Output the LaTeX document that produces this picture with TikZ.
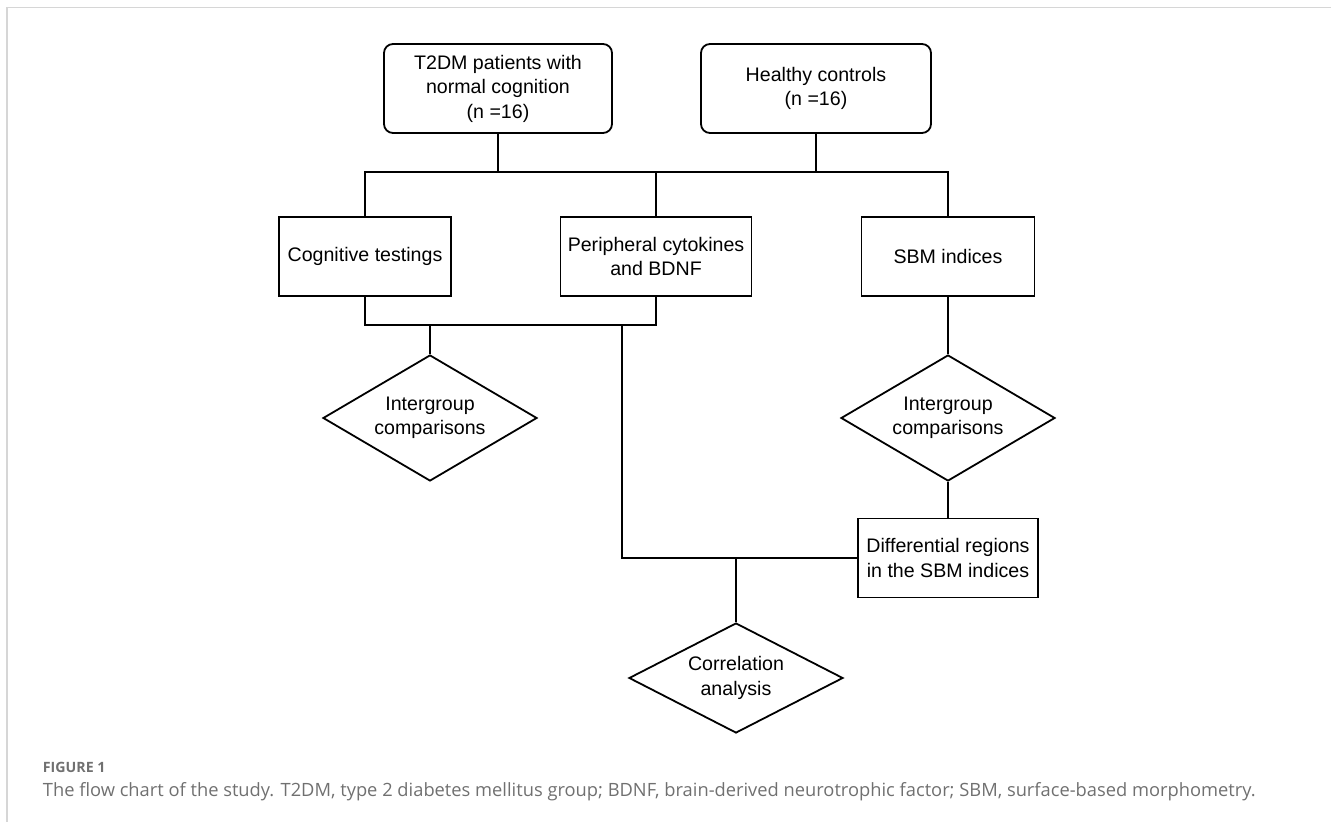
\documentclass[tikz,border=0pt]{standalone}
\usepackage{fontspec}
\setmainfont{Liberation Sans}
\newfontfamily\capfont{Open Sans}
\usetikzlibrary{shapes.geometric}
\definecolor{capgray}{HTML}{707070}
\definecolor{framegray}{HTML}{D6D6D6}

\begin{document}
\begin{tikzpicture}[x=1pt,y=-1pt,line width=1.8pt,
    txt/.style={align=center,font=\fontsize{19.6}{24.5}\selectfont},
    box/.style={txt,draw,rectangle,minimum height=79pt,inner sep=2pt},
    roundbox/.style={box,rounded corners=9pt,minimum height=89pt},
    decision/.style={txt,draw,diamond,inner sep=0pt,aspect=1.7,minimum width=214pt,minimum height=126pt}]
    \useasboundingbox (0,0) rectangle (1331,822);
    % frame
    \draw[framegray,line width=1.5pt](7,822)--(7,7.5)--(1331,7.5);
    % groups
    \node[roundbox,minimum width=228pt](t2dm) at(498,88.5){T2DM patients with\\normal cognition\\(n =16)};
    \node[roundbox,minimum width=230pt](hc) at(816,88.5){Healthy controls\\(n =16)};
    % measures
    \node[box,minimum width=172pt](cog) at(365,256.5){Cognitive testings};
    \node[box,minimum width=191pt](cyto) at(656,256.5){Peripheral cytokines\\and BDNF};
    \node[box,minimum width=173pt](sbm) at(948,256.5){SBM indices};
    % analyses
    \node[decision](igl) at(430,418){Intergroup\\comparisons};
    \node[decision](igr) at(948,418){Intergroup\\comparisons};
    \node[box,minimum width=180pt](diff) at(948,558){Differential regions\\in the SBM indices};
    \node[decision,minimum height=110pt](corr) at(736,678){Correlation\\analysis};
    % connectors
    \coordinate(topbus) at(0,172);
    \coordinate(lowbus) at(0,325);
    \coordinate(split) at(622,325);
    \draw(t2dm.south)--(t2dm.south|-topbus);
    \draw(hc.south)--(hc.south|-topbus);
    \draw(cog.north)--(cog.north|-topbus)-|(sbm.north);
    \draw(cyto.north)--(cyto.north|-topbus);
    \draw(cog.south)--(cog.south|-lowbus)-|(cyto.south);
    \draw(igl.north)--(igl.north|-lowbus);
    \draw(split)|-(diff.west);
    \draw(corr.north)--(corr.north|-diff.west);
    \draw(sbm.south)--(igr.north);
    \draw(igr.south)--(diff.north);
    % caption
    \node[anchor=west,inner sep=0pt,text=capgray,font=\capfont\bfseries\fontsize{14.2}{17}\selectfont](fig) at(42,767){FIGURE 1};
    \node[anchor=west,inner sep=0pt,text=capgray,font=\capfont\fontsize{18.3}{22}\selectfont](cap) at(42,792){The flow chart of the study. T2DM, type 2 diabetes mellitus group; BDNF, brain-derived neurotrophic factor; SBM, surface-based morphometry.};
\end{tikzpicture}
\end{document}
